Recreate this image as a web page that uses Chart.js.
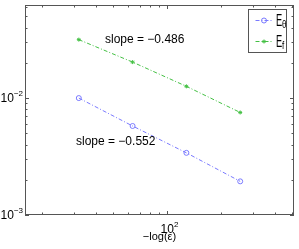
<!DOCTYPE html>
<html>
<head>
<meta charset="utf-8">
<script src="https://cdn.jsdelivr.net/npm/chart.js@4/dist/chart.umd.min.js"></script>
<style>
  html, body { margin: 0; padding: 0; background: #fff; }
  #c { display: block; }
</style>
</head>
<body>
<canvas id="c" width="299" height="249"></canvas>
<script>
// values
const xVals = [32, 64, 128, 256];
const eTheta = [0.0100, 0.00577, 0.0034, 0.00194];
const eF = [0.0316, 0.0203, 0.0126, 0.00753];

const xRange = [16, 512];
const yRange = [0.001, 0.0625];
const xMajor = [100];
const xMinor = [20, 30, 40, 50, 60, 70, 80, 90, 200, 300, 400, 500];
const yMajor = [0.001, 0.01];
const yMinor = [0.002, 0.003, 0.004, 0.005, 0.006, 0.007, 0.008, 0.009, 0.02, 0.03, 0.04, 0.05, 0.06];
const slopeLabels = ["slope = \u22120.486", "slope = \u22120.552"];
const seriesNames = [["E", "\u03b8"], ["E", "f"]];

const FONT = '"Liberation Sans", Arial, sans-serif';
const AXIS = "#555";
const BLUE = "#7a7aff";
const GREEN = "#44c044";
const DASH = [4, 2, 1, 2];

function exp10(v) { return String(Math.round(Math.log10(v))).replace("-", "\u2212"); }

function powerLabel(ctx, x, y, align, base, sup) {
  ctx.font = "12px " + FONT;
  const bw = ctx.measureText(base).width;
  ctx.font = "8px " + FONT;
  const sw = ctx.measureText(sup).width;
  let x0 = x;
  if (align === "right") x0 = x - bw - sw;
  if (align === "center") x0 = x - bw / 2;
  ctx.textAlign = "left";
  ctx.textBaseline = "alphabetic";
  ctx.font = "12px " + FONT;
  ctx.fillText(base, x0, y);
  ctx.font = "8px " + FONT;
  ctx.fillText(sup, x0 + bw, y - 6);
}

// narrow text like the legend glyphs in the original
function squeezedText(ctx, text, x, y, font, sx) {
  ctx.save();
  ctx.translate(x, y);
  ctx.scale(sx, 1);
  ctx.font = font;
  ctx.fillText(text, 0, 0);
  ctx.restore();
}

const framePlugin = {
  id: "frame",
  afterDatasetsDraw(chart) {
    const { ctx, chartArea: a, scales } = chart;
    const sx = scales.x, sy = scales.y;
    ctx.save();
    ctx.strokeStyle = AXIS;
    ctx.lineWidth = 1;
    ctx.setLineDash([]);
    ctx.strokeRect(a.left + 0.5, a.top + 0.5, a.right - a.left - 1, a.bottom - a.top - 1);

    ctx.beginPath();
    const tickX = (v, len) => {
      const px = Math.round(sx.getPixelForValue(v)) + 0.5;
      ctx.moveTo(px, a.bottom); ctx.lineTo(px, a.bottom - len);
      ctx.moveTo(px, a.top); ctx.lineTo(px, a.top + len);
    };
    const tickY = (v, len) => {
      const py = Math.round(sy.getPixelForValue(v)) + 0.5;
      ctx.moveTo(a.left, py); ctx.lineTo(a.left + len, py);
      ctx.moveTo(a.right, py); ctx.lineTo(a.right - len, py);
    };
    xMajor.forEach(v => tickX(v, 4));
    xMinor.forEach(v => tickX(v, 2.5));
    yMajor.forEach(v => tickY(v, 4));
    yMinor.forEach(v => tickY(v, 2.5));
    ctx.stroke();

    // tick labels
    ctx.fillStyle = "#000";
    xMajor.forEach(v => {
      powerLabel(ctx, sx.getPixelForValue(v), a.bottom + 18, "center", "10", exp10(v));
    });
    yMajor.forEach(v => {
      powerLabel(ctx, a.left - 2, sy.getPixelForValue(v) + 4, "right", "10", exp10(v));
    });

    // axis title
    ctx.font = "11px " + FONT;
    ctx.textAlign = "center";
    ctx.fillText("\u2212log(\u03b5)", (a.left + a.right) / 2, a.bottom + 25);

    // slope notes
    ctx.font = "12px " + FONT;
    ctx.textAlign = "left";
    ctx.fillText(slopeLabels[0], a.left + 80, a.top + 37.5);
    ctx.fillText(slopeLabels[1], a.left + 51, a.top + 140);

    // legend
    const lx = 248.5, ly = 9.5, lw = 38, lh = 43;
    ctx.fillStyle = "#fff";
    ctx.fillRect(lx, ly, lw, lh);
    ctx.strokeStyle = AXIS;
    ctx.strokeRect(lx, ly, lw, lh);
    chart.data.datasets.forEach((ds, i) => {
      const y = ly + 11 + i * 21;
      ctx.strokeStyle = ds.borderColor;
      ctx.fillStyle = ds.pointBackgroundColor;
      ctx.lineWidth = 1;
      ctx.setLineDash(DASH);
      ctx.beginPath();
      ctx.moveTo(lx + 7, y); ctx.lineTo(lx + 24, y);
      ctx.stroke();
      ctx.setLineDash([]);
      Chart.helpers.drawPoint(ctx, {
        pointStyle: ds.pointStyle, radius: ds.pointRadius, borderWidth: 1,
      }, lx + 15.5, y);
      ctx.fillStyle = "#000";
      ctx.textAlign = "left";
      squeezedText(ctx, seriesNames[i][0], lx + 27.5, y + 5, "16px " + FONT, 0.58);
      squeezedText(ctx, seriesNames[i][1], lx + 33.5, y + 7, "10px " + FONT, 0.8);
    });
    ctx.restore();
  },
};

new Chart(document.getElementById("c"), {
  type: "line",
  data: {
    datasets: [
      {
        label: "E_theta",
        data: xVals.map((x, i) => ({ x, y: eTheta[i] })),
        borderColor: BLUE,
        backgroundColor: "transparent",
        borderWidth: 1,
        borderDash: DASH,
        pointStyle: "circle",
        pointRadius: 2.5,
        pointBorderColor: BLUE,
        pointBackgroundColor: "rgba(0,0,0,0)",
        pointBorderWidth: 1,
        tension: 0,
      },
      {
        label: "E_f",
        data: xVals.map((x, i) => ({ x, y: eF[i] })),
        borderColor: GREEN,
        backgroundColor: GREEN,
        borderWidth: 1,
        borderDash: DASH,
        pointStyle: "star",
        pointRadius: 2,
        pointBorderColor: GREEN,
        pointBackgroundColor: GREEN,
        pointBorderWidth: 1,
        tension: 0,
      },
    ],
  },
  options: {
    responsive: false,
    animation: false,
    devicePixelRatio: 1,
    layout: { padding: { left: 25, top: 5, right: 5, bottom: 34 } },
    plugins: { legend: { display: false }, tooltip: { enabled: false } },
    scales: {
      x: { type: "logarithmic", min: xRange[0], max: xRange[1], display: false },
      y: { type: "logarithmic", min: yRange[0], max: yRange[1], display: false },
    },
  },
  plugins: [framePlugin],
});
</script>
</body>
</html>
